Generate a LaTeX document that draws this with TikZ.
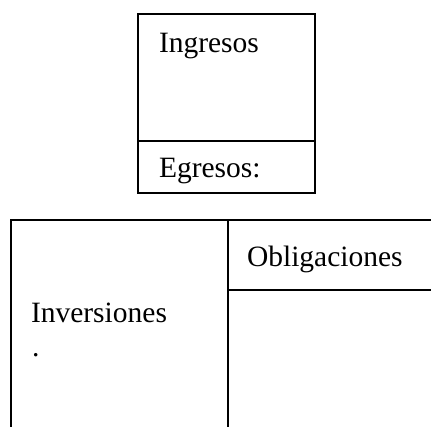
\documentclass[tikz,border=0pt]{standalone}
\usepackage{fontspec}
\setmainfont{Liberation Serif}
\tikzset{
  frame/.style={line width=1.6pt, draw=black},
  lbl/.style={anchor=base west, inner sep=0pt, outer sep=0pt, font=\fontsize{29.5}{35}\selectfont}
}
\begin{document}
\begin{tikzpicture}[x=1pt, y=-1pt]
\useasboundingbox (0,0) rectangle (431,426);
\clip (0,0) rectangle (431,426);
% top box
\draw[frame] (138,14) rectangle (315,193);
\draw[frame] (138,141) -- (315,141);
\node[lbl] (ing) at (159,52) {Ingresos};
\node[lbl] (egr) at (159,177) {Egresos:};
% bottom table
\draw[frame] (11,440) -- (11,220) -- (440,220);
\draw[frame] (228,220) -- (228,440);
\draw[frame] (228,290) -- (440,290);
\node[lbl] (obl) at (247,266) {Obligaciones};
\node[lbl] (inv) at (31,322) {Inversiones};
\node[lbl] (dot) at (32,356) {.};
\end{tikzpicture}
\end{document}
